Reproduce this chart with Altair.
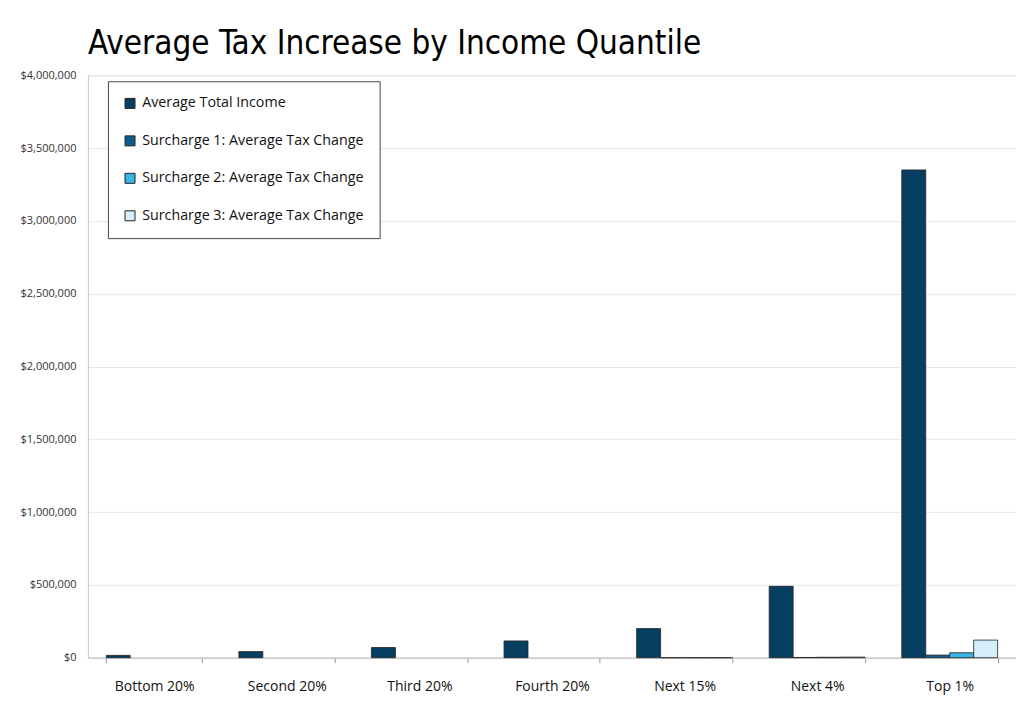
import altair as alt
import pandas as pd

quantiles = ["Bottom 20%", "Second 20%", "Third 20%", "Fourth 20%", "Next 15%", "Next 4%", "Top 1%"]
series = ["Average Total Income", "Surcharge 1: Average Tax Change",
          "Surcharge 2: Average Tax Change", "Surcharge 3: Average Tax Change"]
avg_income = [16000, 42000, 70000, 115000, 200000, 490000, 3350000]
surcharge1 = [0, 0, 0, 0, 50, 1500, 18000]
surcharge2 = [0, 0, 0, 0, 100, 3000, 34000]
surcharge3 = [0, 0, 0, 0, 150, 4000, 121000]
colors = ["#073f63", "#0c5f8c", "#36b6e6", "#d5eef9"]

rows = []
for vals, s in zip([avg_income, surcharge1, surcharge2, surcharge3], series):
    for q, v in zip(quantiles, vals):
        rows.append({"Quantile": q, "Series": s, "Value": v})
df = pd.DataFrame(rows)

chart = alt.Chart(df).transform_filter(
    alt.datum.Value > 0
).mark_bar(stroke="#222222", strokeWidth=0.8).encode(
    x=alt.X("Quantile:N", sort=quantiles, title=None,
            scale=alt.Scale(domain=quantiles, paddingInner=0.277, paddingOuter=0.1385),
            axis=alt.Axis(labelAngle=0, labelFontSize=14, labelFont="Open Sans",
                          labelColor="#111111", domainColor="#bbbbbb",
                          tickColor="#999999", tickSize=5, tickBand="extent",
                          labelPadding=17, grid=False)),
    xOffset=alt.XOffset("Series:N", sort=series, scale=alt.Scale(domain=series)),
    y=alt.Y("Value:Q", title=None,
            scale=alt.Scale(domain=[0, 4000000], nice=False),
            axis=alt.Axis(values=[0, 500000, 1000000, 1500000, 2000000, 2500000,
                                  3000000, 3500000, 4000000],
                          format="$,d", labelFontSize=11, labelFont="Open Sans",
                          labelColor="#333333", ticks=False, labelPadding=12,
                          domainColor="#cccccc", gridColor="#e8e8e8")),
    color=alt.Color("Series:N", sort=series,
                    scale=alt.Scale(domain=series, range=colors),
                    legend=alt.Legend(title=None, orient="none", legendX=20, legendY=6,
                                      labelFont="Open Sans", labelFontSize=14.3,
                                      labelColor="#111111", symbolType="square",
                                      symbolSize=100, symbolStrokeColor="#222222",
                                      symbolStrokeWidth=1, rowPadding=22.5,
                                      strokeColor="#444444", fillColor="white",
                                      padding=15, labelOffset=5, labelLimit=400)),
).properties(
    width=929, height=583,
    title=alt.TitleParams("Average Tax Increase by Income Quantile",
                          anchor="start", frame="group", fontSize=33,
                          font="DejaVu Sans Condensed",
                          fontWeight="normal", color="#000000", offset=8),
    autosize=alt.AutoSizeParams(type="none"),
    padding={"left": 80, "top": 67, "right": 0, "bottom": 48},
).configure_view(stroke=None).configure(background="white")

chart.save("out.html", embed_options={"renderer": "svg", "actions": False})
